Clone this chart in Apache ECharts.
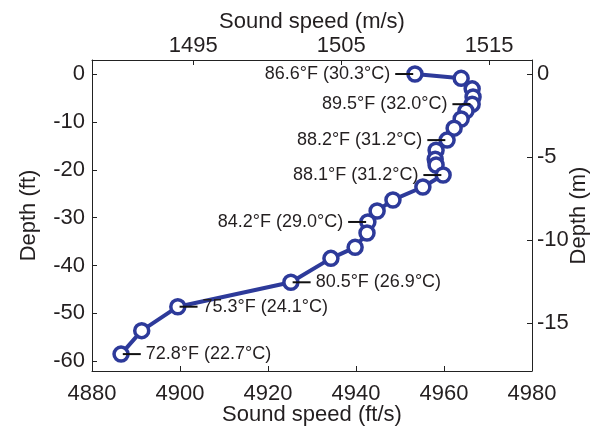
<!DOCTYPE html>
<html><head><meta charset="utf-8">
<script src="https://cdn.jsdelivr.net/npm/echarts@6/dist/echarts.min.js"></script>
<style>html,body{margin:0;padding:0;background:#fff}#c{width:602px;height:430px}</style>
</head><body><div id="c"></div>
<script>
// Sound speed (ft/s) and depth (ft) of each sample
const speedFt = [4953.4, 4963.9, 4966.4, 4966.6, 4966.4, 4965.0, 4963.9, 4962.3, 4960.7, 4958.2, 4958.0, 4958.2, 4959.8, 4955.2, 4948.4, 4944.8, 4942.7, 4942.5, 4939.8, 4934.3, 4925.2, 4899.5, 4891.3, 4886.6];
const depthFt = [0, -0.9, -3.1, -4.8, -6.3, -7.7, -9.4, -11.3, -13.8, -15.9, -17.8, -19.0, -21.1, -23.6, -26.3, -28.6, -30.9, -33.2, -36.2, -38.5, -43.5, -48.6, -53.6, -58.5];
// Temperature annotations
const annIndex = [0, 4, 8, 12, 16, 20, 21, 23];
const annText = ['86.6°F (30.3°C)', '89.5°F (32.0°C)', '88.2°F (31.2°C)', '88.1°F (31.2°C)', '84.2°F (29.0°C)', '80.5°F (26.9°C)', '75.3°F (24.1°C)', '72.8°F (22.7°C)'];
const annSide = ['left', 'left', 'left', 'left', 'left', 'right', 'right', 'right'];
// Tick labels
const bottomTicks = [4880, 4900, 4920, 4940, 4960, 4980];
const topTicks = [1495, 1505, 1515];
const leftTicks = [0, -10, -20, -30, -40, -50, -60];
const rightTicks = [0, -5, -10, -15];

const FONT = "'Liberation Sans', Arial, Helvetica, sans-serif";
const TXT = '#231f20';
const BLUE = '#2d3a9a';
const SYM = 14;

const data = speedFt.map((s, i) => {
  const item = { value: [s, depthFt[i]] };
  const k = annIndex.indexOf(i);
  if (k >= 0) {
    const left = annSide[k] === 'left';
    item.label = {
      show: true,
      position: left ? 'left' : 'right',
      distance: 0,
      offset: [left ? SYM / 2 : -SYM / 2, 0],
      formatter: left ? '{t|' + annText[k] + '}{g|}{l|}' : '{l|}{g|}{t|' + annText[k] + '}',
      rich: {
        t: { fontSize: 18, fontFamily: FONT, color: TXT },
        g: { width: 5, height: 2 },
        l: { width: 18, height: 2, backgroundColor: '#111' }
      }
    };
  }
  return item;
});

const plain = v => String(v);
const axisLineStyle = { show: true, onZero: false, lineStyle: { color: '#222', width: 1 } };
const tickStyle = { show: true, inside: true, length: 5, lineStyle: { color: '#222', width: 1 } };
const labelBase = { fontSize: 22, fontFamily: FONT, color: TXT, formatter: plain };
const nameStyle = { fontSize: 22, fontFamily: FONT, color: TXT };

const chart = echarts.init(document.getElementById('c'), null, { renderer: 'canvas' });
chart.setOption({
  animation: false,
  backgroundColor: '#fff',
  grid: { left: 92, right: 70, top: 60, bottom: 59, containLabel: false, outerBoundsMode: 'none' },
  xAxis: [
    {
      type: 'value', position: 'bottom', min: 4880, max: 4980, interval: 20,
      axisLine: axisLineStyle, axisTick: tickStyle, splitLine: { show: false },
      axisLabel: Object.assign({ margin: 12 }, labelBase),
      name: 'Sound speed (ft/s)', nameLocation: 'middle', nameGap: 33, nameMoveOverlap: false, nameTextStyle: nameStyle
    },
    {
      type: 'value', position: 'top', min: 1488.15, max: 1517.9,
      axisLine: axisLineStyle,
      axisTick: Object.assign({ customValues: topTicks }, tickStyle),
      splitLine: { show: false },
      axisLabel: Object.assign({ margin: 3, customValues: topTicks }, labelBase),
      name: 'Sound speed (m/s)', nameLocation: 'middle', nameGap: 27, nameMoveOverlap: false, nameTextStyle: nameStyle
    }
  ],
  yAxis: [
    {
      type: 'value', position: 'left', min: -62.03, max: 2.93,
      axisLine: axisLineStyle,
      axisTick: Object.assign({ customValues: leftTicks }, tickStyle),
      splitLine: { show: false },
      axisLabel: Object.assign({ margin: 7, customValues: leftTicks }, labelBase),
      name: 'Depth (ft)', nameLocation: 'middle', nameGap: 52, nameRotate: 90, nameMoveOverlap: false, nameTextStyle: nameStyle
    },
    {
      type: 'value', position: 'right', min: -17.87, max: 0.843,
      axisLine: axisLineStyle,
      axisTick: Object.assign({ customValues: rightTicks }, tickStyle),
      splitLine: { show: false },
      axisLabel: Object.assign({ margin: 5, customValues: rightTicks }, labelBase),
      name: 'Depth (m)', nameLocation: 'middle', nameGap: 36, nameRotate: 90, nameMoveOverlap: false, nameTextStyle: nameStyle
    }
  ],
  series: [{
    type: 'line',
    xAxisIndex: 0, yAxisIndex: 0,
    data: data,
    symbol: 'circle', symbolSize: SYM,
    itemStyle: { color: '#fff', borderColor: BLUE, borderWidth: 3.5 },
    lineStyle: { color: BLUE, width: 4 },
    z: 3
  }]
});
</script></body></html>
